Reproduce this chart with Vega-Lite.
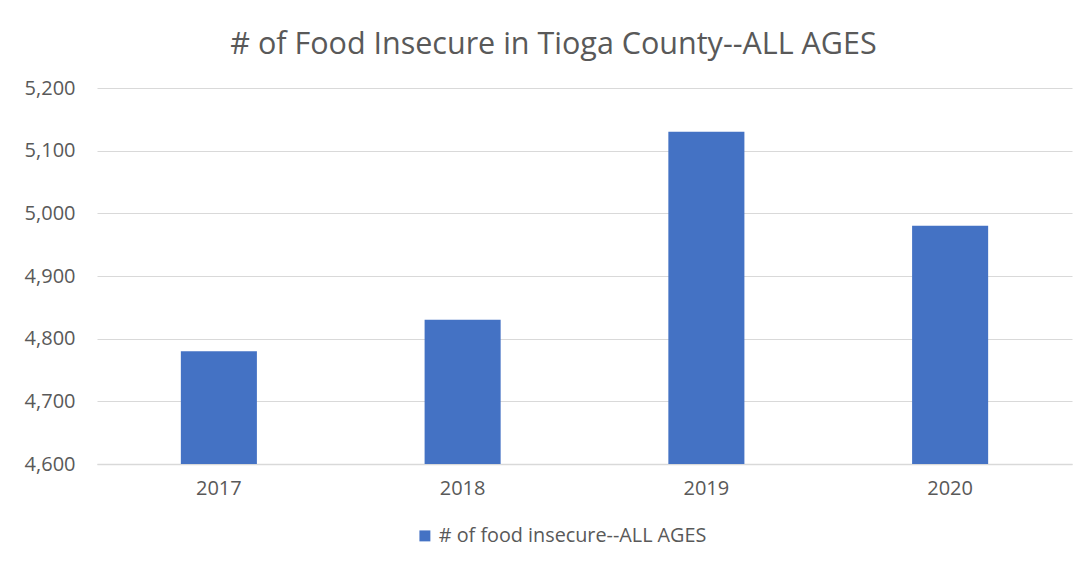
{
  "$schema": "https://vega.github.io/schema/vega-lite/v6.json",
  "autosize": {"type": "none"},
  "width": 975,
  "height": 376,
  "padding": {"left": 97, "top": 88, "right": 17, "bottom": 102},
  "background": "white",
  "title": {
    "text": "# of Food Insecure in Tioga County--ALL AGES",
    "font": "Open Sans",
    "fontSize": 30.5,
    "fontWeight": "normal",
    "color": "#595959",
    "anchor": "middle",
    "dx": -31,
    "offset": 18
  },
  "data": {
    "values": [
      {"year": "2017", "value": 4780, "series": "# of food insecure--ALL AGES"},
      {"year": "2018", "value": 4830, "series": "# of food insecure--ALL AGES"},
      {"year": "2019", "value": 5130, "series": "# of food insecure--ALL AGES"},
      {"year": "2020", "value": 4980, "series": "# of food insecure--ALL AGES"}
    ]
  },
  "mark": {"type": "bar", "clip": true},
  "encoding": {
    "x": {
      "field": "year",
      "type": "ordinal",
      "title": null,
      "scale": {"paddingInner": 0.688, "paddingOuter": 0.344},
      "axis": {
        "labelAngle": 0,
        "labelFont": "Open Sans",
        "labelFontSize": 20,
        "labelColor": "#595959",
        "labelPadding": 14,
        "ticks": false,
        "domainColor": "#d9d9d9",
        "domainWidth": 1.5
      }
    },
    "y": {
      "field": "value",
      "type": "quantitative",
      "title": null,
      "scale": {"domain": [4600, 5200], "zero": false, "nice": false},
      "axis": {
        "values": [4600, 4700, 4800, 4900, 5000, 5100, 5200],
        "format": ",.0f",
        "labelFont": "Open Sans",
        "labelFontSize": 20,
        "labelColor": "#595959",
        "labelPadding": 22,
        "ticks": false,
        "domain": false,
        "gridColor": "#d9d9d9",
        "gridWidth": 1.2
      }
    },
    "color": {
      "field": "series",
      "type": "nominal",
      "scale": {"range": ["#4472C4"]},
      "legend": {
        "title": null,
        "orient": "none",
        "legendX": 318,
        "legendY": 438,
        "symbolType": "square",
        "symbolSize": 120,
        "labelFont": "Open Sans",
        "labelFontSize": 19.8,
        "labelColor": "#595959",
        "labelOffset": 4,
        "labelLimit": 400
      }
    }
  },
  "config": {"view": {"stroke": null}}
}
